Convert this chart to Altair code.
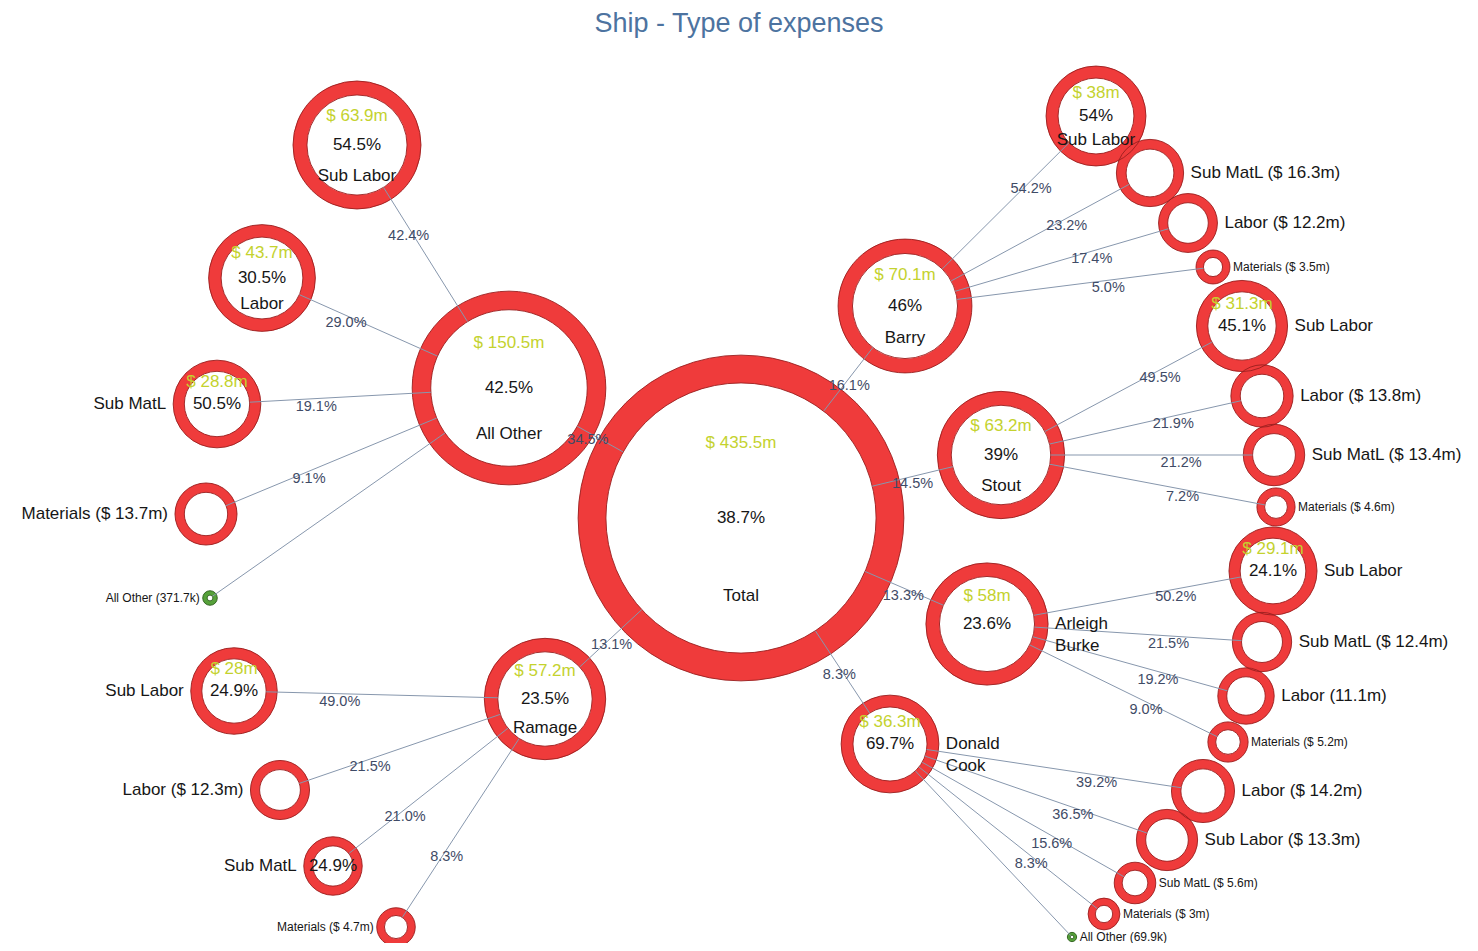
import altair as alt
import pandas as pd
import numpy as np

# ---------------- data ----------------
node_name = ["Total", "All Other", "Barry", "Stout", "Arleigh\nBurke", "Donald\nCook", "Ramage",
             "Sub Labor", "Labor", "Sub MatL", "Materials", "All Other",
             "Sub Labor", "Sub MatL", "Labor", "Materials",
             "Sub Labor", "Labor", "Sub MatL", "Materials",
             "Sub Labor", "Sub MatL", "Labor", "Materials",
             "Labor", "Sub Labor", "Sub MatL", "Materials", "All Other",
             "Sub Labor", "Labor", "Sub MatL", "Materials"]
node_parent = [-1, 0, 0, 0, 0, 0, 0,
               1, 1, 1, 1, 1,
               2, 2, 2, 2,
               3, 3, 3, 3,
               4, 4, 4, 4,
               5, 5, 5, 5, 5,
               6, 6, 6, 6]
node_amount = [435.5, 150.5, 70.1, 63.2, 58.0, 36.3, 57.2,
               63.9, 43.7, 28.8, 13.7, 0.3717,
               38.0, 16.3, 12.2, 3.5,
               31.3, 13.8, 13.4, 4.6,
               29.1, 12.4, 11.1, 5.2,
               14.2, 13.3, 5.6, 3.0, 0.0699,
               28.0, 12.3, 12.0, 4.7]
node_amount_text = ["$ 435.5m", "$ 150.5m", "$ 70.1m", "$ 63.2m", "$ 58m", "$ 36.3m", "$ 57.2m",
                    "$ 63.9m", "$ 43.7m", "$ 28.8m", "$ 13.7m", "371.7k",
                    "$ 38m", "$ 16.3m", "$ 12.2m", "$ 3.5m",
                    "$ 31.3m", "$ 13.8m", "$ 13.4m", "$ 4.6m",
                    "$ 29.1m", "$ 12.4m", "11.1m", "$ 5.2m",
                    "$ 14.2m", "$ 13.3m", "$ 5.6m", "$ 3m", "69.9k",
                    "$ 28m", "$ 12.3m", "$ 12.0m", "$ 4.7m"]
node_pct_text = ["38.7%", "42.5%", "46%", "39%", "23.6%", "69.7%", "23.5%",
                 "54.5%", "30.5%", "50.5%", "", "",
                 "54%", "", "", "",
                 "45.1%", "", "", "",
                 "24.1%", "", "", "",
                 "", "", "", "", "",
                 "24.9%", "", "24.9%", ""]
# share of parent, one per non-root node (same order as nodes 1..)
edge_pct_text = ["34.5%", "16.1%", "14.5%", "13.3%", "8.3%", "13.1%",
                 "42.4%", "29.0%", "19.1%", "9.1%", "",
                 "54.2%", "23.2%", "17.4%", "5.0%",
                 "49.5%", "21.9%", "21.2%", "7.2%",
                 "50.2%", "21.5%", "19.2%", "9.0%",
                 "39.2%", "36.5%", "15.6%", "8.3%", "",
                 "49.0%", "21.5%", "21.0%", "8.3%"]

# ---------------- network layout (node centres, page pixels) ----------------
layout_x = [741, 509, 905, 1001, 987, 890, 545,
            357, 262, 217, 206, 210,
            1096, 1150, 1188, 1213,
            1242, 1262, 1274, 1276,
            1273, 1262, 1246, 1228,
            1203, 1167, 1135, 1104, 1072,
            234, 280, 333, 396]
layout_y = [518, 388, 306, 455, 624, 744, 699,
            145, 278, 404, 514, 598,
            116, 173, 223, 267,
            326, 396, 455, 507,
            571, 642, 696, 742,
            791, 840, 883, 914, 937,
            691, 790, 866, 927]
name_place = ["in", "in", "in", "in", "right", "right", "in",
              "in", "in", "left", "left", "left",
              "in", "right", "right", "right",
              "right", "right", "right", "right",
              "right", "right", "right", "right",
              "right", "right", "right", "right", "right",
              "left", "left", "left", "left"]

FONT = "Liberation Sans"
RED, RED_EDGE = "#ef3b3b", "#9a1e1e"
GREEN, GREEN_EDGE = "#56a13a", "#2d5e1c"
AMT_COL = "#c4d22e"
LINE_COL = "#8797ad"
EDGE_TXT = "#3f4b66"
TITLE_COL = "#4d73a0"

# ---------------- derived tables ----------------
amt = np.array(node_amount)
r = 2.6 + 7.68 * np.sqrt(amt)                  # radius grows with sqrt(amount)
t = np.minimum(5 + 0.14 * r, 0.6 * r)          # ring thickness
small = amt < 6
gap = np.where(small, 3, 7)
place = np.array(name_place)
lab_x = np.where(place == "left", np.array(layout_x) - r - gap, np.array(layout_x) + r + gap)
outer = [
    "" if place[i] == "in" else
    (node_name[i] if node_pct_text[i] else f"{node_name[i]} ({node_amount_text[i]})")
    for i in range(len(node_name))
]

nodes = pd.DataFrame({
    "name": node_name,
    "x": layout_x, "y": layout_y,
    "amount": node_amount,
    "amount_text": node_amount_text,
    "pct": node_pct_text,
    "place": name_place,
    "kind": np.where(amt < 1, "green", "red"),
    "ring_size": (2 * (r - t / 2)) ** 2,
    "ring_w": t,
    "outer_size": (2 * r) ** 2,
    "inner_size": (2 * (r - t)) ** 2,
    "ya": np.array(layout_y) - np.maximum(22, 0.46 * r),
    "yn": np.array(layout_y) + 0.48 * r,
    "lab_x": lab_x,
    "outer": outer,
    "fs": np.where(small, 12, 17),
})

rows = []
for i in range(1, len(node_name)):
    p = node_parent[i]
    px, py, cx, cy = layout_x[p], layout_y[p], layout_x[i], layout_y[i]
    L = np.hypot(cx - px, cy - py)
    ux, uy = (cx - px) / L, (cy - py) / L
    rp = r[p] - t[p]
    rc = r[i] - t[i]
    rows.append({
        "x1": px + ux * rp, "y1": py + uy * rp,
        "x2": cx - ux * rc, "y2": cy - uy * rc,
        "px": px, "py": py, "cx": cx, "cy": cy,
        "label": edge_pct_text[i - 1],
    })
edges = pd.DataFrame(rows)

# ---------------- chart ----------------
TOP_PAD, BOTTOM_PAD, PLOT_H = 34, 6, 895
y_top = 8 + TOP_PAD
xs = alt.Scale(domain=[8, 1470], nice=False, zero=False)
ys = alt.Scale(domain=[y_top, y_top + PLOT_H], nice=False, zero=False, reverse=True)


def X(f):
    return alt.X(f, type="quantitative", scale=xs, axis=None)


def Y(f):
    return alt.Y(f, type="quantitative", scale=ys, axis=None)


base = alt.Chart(nodes)
is_green = "datum.kind == 'green'"

ring = base.mark_point(shape="circle", filled=False, opacity=1).encode(
    x=X("x"), y=Y("y"),
    size=alt.Size("ring_size:Q", scale=None),
    strokeWidth=alt.StrokeWidth("ring_w:Q", scale=None),
    stroke=alt.condition(is_green, alt.value(GREEN), alt.value(RED)),
)
outline_out = base.mark_point(shape="circle", filled=False, opacity=1, strokeWidth=0.9).encode(
    x=X("x"), y=Y("y"),
    size=alt.Size("outer_size:Q", scale=None),
    stroke=alt.condition(is_green, alt.value(GREEN_EDGE), alt.value(RED_EDGE)),
)
outline_in = base.mark_point(shape="circle", filled=False, opacity=1, strokeWidth=0.9).encode(
    x=X("x"), y=Y("y"),
    size=alt.Size("inner_size:Q", scale=None),
    stroke=alt.condition(is_green, alt.value(GREEN_EDGE), alt.value(RED_EDGE)),
)

links = alt.Chart(edges).mark_rule(color=LINE_COL, strokeWidth=1).encode(
    x=X("x1"), y=Y("y1"), x2="x2:Q", y2="y2:Q"
)
link_labels = alt.Chart(edges).transform_filter("datum.label != ''").transform_calculate(
    lx="datum.px + 0.66 * (datum.cx - datum.px)",
    ly="datum.py + 0.66 * (datum.cy - datum.py)",
).mark_text(font=FONT, fontSize=14.5, color=EDGE_TXT, dy=8, baseline="middle").encode(
    x=X("lx"), y=Y("ly"), text="label:N"
)

amount_txt = base.transform_filter("datum.amount >= 28").mark_text(
    font=FONT, fontSize=17, color=AMT_COL, baseline="middle"
).encode(x=X("x"), y=Y("ya"), text="amount_text:N")
pct_txt = base.transform_filter("datum.pct != ''").mark_text(
    font=FONT, fontSize=17, color="#161616", baseline="middle"
).encode(x=X("x"), y=Y("y"), text="pct:N")
name_in = base.transform_filter("datum.place == 'in'").mark_text(
    font=FONT, fontSize=17, color="#161616", baseline="middle"
).encode(x=X("x"), y=Y("yn"), text="name:N")
label_left = base.transform_filter("datum.place == 'left'").mark_text(
    font=FONT, color="#161616", align="right", baseline="middle"
).encode(x=X("lab_x"), y=Y("y"), text="outer:N", size=alt.Size("fs:Q", scale=None))
label_right = base.transform_filter("datum.place == 'right'").mark_text(
    font=FONT, color="#161616", align="left", baseline="middle", lineBreak="\n", lineHeight=22
).encode(x=X("lab_x"), y=Y("y"), text="outer:N", size=alt.Size("fs:Q", scale=None))

chart = alt.layer(
    ring, outline_out, outline_in, links, link_labels,
    amount_txt, pct_txt, name_in, label_left, label_right,
).properties(
    width=1462, height=PLOT_H,
    background="white",
    autosize=alt.AutoSizeParams(type="none"),
    padding={"left": 0, "right": 0, "top": TOP_PAD, "bottom": BOTTOM_PAD},
    title=alt.TitleParams("Ship - Type  of expenses", font=FONT, fontSize=27, fontWeight="normal",
                          color=TITLE_COL, anchor="middle", offset=4),
).configure_view(strokeWidth=0, stroke=None)

chart.save("out.html", embed_options={"renderer": "svg", "actions": False})
